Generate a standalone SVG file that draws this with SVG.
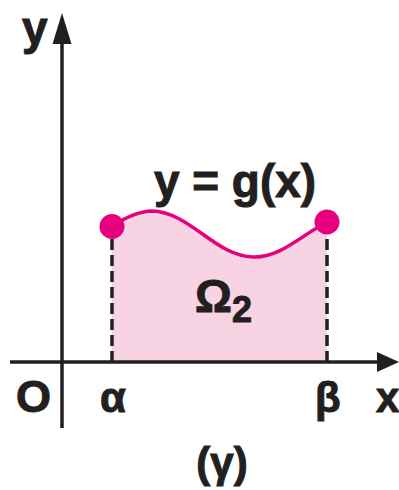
<svg xmlns="http://www.w3.org/2000/svg" width="399" height="490" viewBox="0 0 399 490">
<style>
.t{font-family:"Liberation Sans",Arial,sans-serif;font-weight:bold;fill:#231f20;stroke:#231f20;stroke-width:1}
.ax{stroke:#231f20;stroke-width:3.5;fill:none}
.dash{stroke:#231f20;stroke-width:3.5;stroke-dasharray:11 5;fill:none}
</style>
<rect width="399" height="490" fill="#fff"/>
<g id="region">
<path d="M112,226 C128,216 140,211 152,211 C190,212 215,256 253,257 C280,258 300,236 327,222 L327,362 L112,362 Z" fill="#f8d3e4"/>
</g>
<g id="connectors">
<line class="ax" x1="62" y1="40" x2="62" y2="428"/>
<polygon points="62,13 52.5,44 71.5,44" fill="#231f20"/>
<line class="ax" x1="10" y1="362" x2="380" y2="362"/>
<polygon points="399,362 377,352 377,372" fill="#231f20"/>
<line class="dash" x1="112" y1="362" x2="112" y2="232"/>
<line class="dash" x1="327" y1="362" x2="327" y2="228"/>
</g>
<g id="curve">
<path d="M112,226 C128,216 140,211 152,211 C190,212 215,256 253,257 C280,258 300,236 327,222" fill="none" stroke="#e6007e" stroke-width="3.5"/>
<circle cx="112" cy="226.5" r="12.5" fill="#e6007e"/>
<circle cx="327" cy="222" r="12.5" fill="#e6007e"/>
</g>
<g id="labels">
<text class="t" x="22" y="44" font-size="46">y</text>
<text class="t" x="235" y="197" font-size="46" text-anchor="middle" textLength="162" lengthAdjust="spacingAndGlyphs">y = g(x)</text>
<text class="t" x="195" y="312" font-size="46">Ω<tspan font-size="36" dy="10">2</tspan></text>
<text class="t" x="16" y="412" font-size="45">O</text>
<text class="t" x="100" y="412" font-size="42">α</text>
<text class="t" x="315" y="412" font-size="42">β</text>
<text class="t" x="376" y="412" font-size="42">x</text>
<text class="t" x="222" y="477" font-size="42" text-anchor="middle">(γ)</text>
</g>
</svg>
